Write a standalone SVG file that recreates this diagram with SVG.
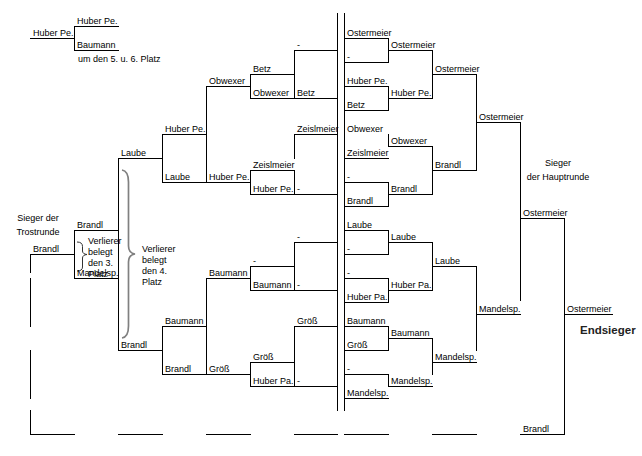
<svg xmlns="http://www.w3.org/2000/svg" width="642" height="456" viewBox="0 0 642 456">
<style>
.t{font-family:"Liberation Sans",Arial,sans-serif;font-size:9px;fill:#000}
.c{font-family:"Liberation Sans",Arial,sans-serif;font-size:9px;fill:#000;text-anchor:middle}
.w{font-family:"Liberation Sans",Arial,sans-serif;font-size:11.5px;font-weight:bold;fill:#222}
.ln{stroke:#000;stroke-width:1;fill:none;shape-rendering:crispEdges}
.br{stroke:#808080;stroke-width:1.7;fill:none}
.sb{stroke:#333;stroke-width:1;fill:none}
</style>
<rect width="642" height="456" fill="#fff"/>
<g id="connectors">
<path class="ln" d="
M30 38.5H75 M74 26.5H119 M74 50.5H119
M30 254.5H75 M74 230.5H119 M74 278.5H119 M118 158.5H163 M118 350.5H163
M162 134.5H207 M162 182.5H207 M162 326.5H207 M162 374.5H207
M206 86.5H251 M206 182.5H251 M206 278.5H251 M206 374.5H251
M250 74.5H295 M250 98.5H295 M250 170.5H295 M250 194.5H295 M250 266.5H295 M250 290.5H295 M250 362.5H295 M250 386.5H295
M294 50.5H338 M294 98.5H338 M294 134.5H338 M294 194.5H338 M294 242.5H338 M294 290.5H338 M294 326.5H338 M294 386.5H338
M344 38.5H389 M344 62.5H389 M344 86.5H389 M344 110.5H389 M344 158.5H389 M344 182.5H389 M344 206.5H389 M344 230.5H389 M344 254.5H389 M344 278.5H389 M344 302.5H389 M344 326.5H389 M344 350.5H389 M344 374.5H389 M344 398.5H389
M388 50.5H433 M388 98.5H433 M388 146.5H433 M388 194.5H433 M388 242.5H433 M388 290.5H433 M388 338.5H433 M388 386.5H433
M432 74.5H477 M432 170.5H477 M432 266.5H477 M432 362.5H477
M476 122.5H521 M476 314.5H521
M520 218.5H565
M564 314.5H613
M30 434.5H75 M118 434.5H163 M206 434.5H251 M294 434.5H338 M344 434.5H389 M432 434.5H477 M520 434.5H565
"/>
<path class="ln" d="
M74.5 26V51 M74.5 230V279 M118.5 158V351 M162.5 134V183 M162.5 326V375
M206.5 86V183 M206.5 278V375
M250.5 74V99 M250.5 170V195 M250.5 266V291 M250.5 362V387
M294.5 50V99 M294.5 134V159 M294.5 170V195 M294.5 242V291 M294.5 326V387
M337.5 13V411 M344.5 13V411
M388.5 38V63 M388.5 86V111 M388.5 134V147 M388.5 182V207 M388.5 230V255 M388.5 278V303 M388.5 326V351 M388.5 374V387
M432.5 50V99 M432.5 146V195 M432.5 242V291 M432.5 338V375
M476.5 74V171 M476.5 266V351
M520.5 122V301
M564.5 218V435
M30.5 254V273 M30.5 278V327 M30.5 350V399 M30.5 410V435
"/>
<path class="br" d="M122 170Q128.5 171 128.5 182L128.5 246Q128.5 253 135 254Q128.5 255 128.5 262L128.5 326Q128.5 337 122 338"/>
<path class="sb" d="M77 242Q82.5 242 82.5 246.5L82.5 251Q82.5 254 87 254.5Q82.5 255 82.5 258L82.5 267Q82.5 271 77 271"/>
</g>
<g id="consolation">
<g id="n30-38"><text class="t" x="33" y="36">Huber Pe.</text></g>
<g id="n74-26"><text class="t" x="77" y="24">Huber Pe.</text></g>
<g id="n74-50"><text class="t" x="77" y="48">Baumann</text></g>
<g id="note56"><text class="t" x="78" y="62">um den 5. u. 6. Platz</text></g>
<g id="n30-254"><text class="t" x="33" y="252">Brandl</text></g>
<g id="n74-230"><text class="t" x="77" y="228">Brandl</text></g>
<g id="n74-278"><text class="t" x="77" y="276">Mandelsp.</text></g>
<g id="n118-158"><text class="t" x="121" y="156">Laube</text></g>
<g id="n118-350"><text class="t" x="121" y="348">Brandl</text></g>
<g id="n162-134"><text class="t" x="165" y="132">Huber Pe.</text></g>
<g id="n162-182"><text class="t" x="165" y="180">Laube</text></g>
<g id="n162-326"><text class="t" x="165" y="324">Baumann</text></g>
<g id="n162-374"><text class="t" x="165" y="372">Brandl</text></g>
<g id="n206-86"><text class="t" x="209" y="84">Obwexer</text></g>
<g id="n206-182"><text class="t" x="209" y="180">Huber Pe.</text></g>
<g id="n206-278"><text class="t" x="209" y="276">Baumann</text></g>
<g id="n206-374"><text class="t" x="209" y="372">Größ</text></g>
<g id="n250-74"><text class="t" x="253" y="72">Betz</text></g>
<g id="n250-98"><text class="t" x="253" y="96">Obwexer</text></g>
<g id="n250-170"><text class="t" x="253" y="168">Zeislmeier</text></g>
<g id="n250-194"><text class="t" x="253" y="192">Huber Pe.</text></g>
<g id="n250-266"><text class="t" x="253" y="264">-</text></g>
<g id="n250-290"><text class="t" x="253" y="288">Baumann</text></g>
<g id="n250-362"><text class="t" x="253" y="360">Größ</text></g>
<g id="n250-386"><text class="t" x="253" y="384">Huber Pa.</text></g>
<g id="n294-50"><text class="t" x="297" y="48">-</text></g>
<g id="n294-98"><text class="t" x="297" y="96">Betz</text></g>
<g id="n294-134"><text class="t" x="297" y="132">Zeislmeier</text></g>
<g id="n294-194"><text class="t" x="297" y="192">-</text></g>
<g id="n294-242"><text class="t" x="297" y="240">-</text></g>
<g id="n294-290"><text class="t" x="297" y="288">-</text></g>
<g id="n294-326"><text class="t" x="297" y="324">Größ</text></g>
<g id="n294-386"><text class="t" x="297" y="384">-</text></g>
</g>
<g id="main">
<g id="n344-38"><text class="t" x="347" y="36">Ostermeier</text></g>
<g id="n344-62"><text class="t" x="347" y="60">-</text></g>
<g id="n344-86"><text class="t" x="347" y="84">Huber Pe.</text></g>
<g id="n344-110"><text class="t" x="347" y="108">Betz</text></g>
<g id="n344-134"><text class="t" x="347" y="132">Obwexer</text></g>
<g id="n344-158"><text class="t" x="347" y="156">Zeislmeier</text></g>
<g id="n344-182"><text class="t" x="347" y="180">-</text></g>
<g id="n344-206"><text class="t" x="347" y="204">Brandl</text></g>
<g id="n344-230"><text class="t" x="347" y="228">Laube</text></g>
<g id="n344-254"><text class="t" x="347" y="252">-</text></g>
<g id="n344-278"><text class="t" x="347" y="276">-</text></g>
<g id="n344-302"><text class="t" x="347" y="300">Huber Pa.</text></g>
<g id="n344-326"><text class="t" x="347" y="324">Baumann</text></g>
<g id="n344-350"><text class="t" x="347" y="348">Größ</text></g>
<g id="n344-374"><text class="t" x="347" y="372">-</text></g>
<g id="n344-398"><text class="t" x="347" y="396">Mandelsp.</text></g>
<g id="n388-50"><text class="t" x="391" y="48">Ostermeier</text></g>
<g id="n388-98"><text class="t" x="391" y="96">Huber Pe.</text></g>
<g id="n388-146"><text class="t" x="391" y="144">Obwexer</text></g>
<g id="n388-194"><text class="t" x="391" y="192">Brandl</text></g>
<g id="n388-242"><text class="t" x="391" y="240">Laube</text></g>
<g id="n388-290"><text class="t" x="391" y="288">Huber Pa.</text></g>
<g id="n388-338"><text class="t" x="391" y="336">Baumann</text></g>
<g id="n388-386"><text class="t" x="391" y="384">Mandelsp.</text></g>
<g id="n432-74"><text class="t" x="435" y="72">Ostermeier</text></g>
<g id="n432-170"><text class="t" x="435" y="168">Brandl</text></g>
<g id="n432-266"><text class="t" x="435" y="264">Laube</text></g>
<g id="n432-362"><text class="t" x="435" y="360">Mandelsp.</text></g>
<g id="n476-122"><text class="t" x="479" y="120">Ostermeier</text></g>
<g id="n476-314"><text class="t" x="479" y="312">Mandelsp.</text></g>
<g id="n520-218"><text class="t" x="523" y="216">Ostermeier</text></g>
<g id="n520-434"><text class="t" x="523" y="432">Brandl</text></g>
<g id="n564-314"><text class="t" x="567" y="312">Ostermeier</text></g>
</g>
<g id="notes">
<g id="trost"><text class="c" x="38" y="221">Sieger der</text><text class="c" x="38" y="235">Trostrunde</text></g>
<g id="haupt"><text class="c" x="558" y="166">Sieger</text><text class="c" x="558" y="180">der Hauptrunde</text></g>
<g id="end"><text class="w" x="580" y="333.5">Endsieger</text></g>
<g id="platz3"><text class="t" x="88" y="244">Verlierer</text><text class="t" x="88" y="255">belegt</text><text class="t" x="88" y="266">den 3.</text><text class="t" x="88" y="277">Platz</text></g>
<g id="platz4"><text class="t" x="142" y="252">Verlierer</text><text class="t" x="142" y="263">belegt</text><text class="t" x="142" y="274">den 4.</text><text class="t" x="142" y="285">Platz</text></g>
</g>
</svg>
